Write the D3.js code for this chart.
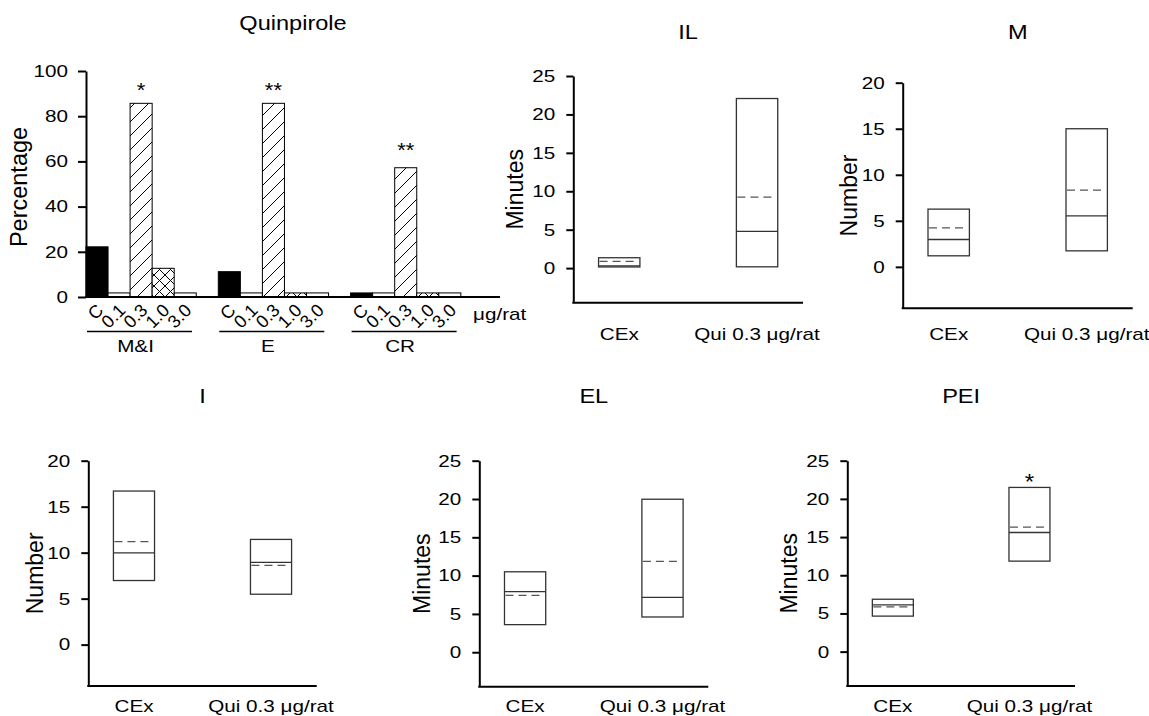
<!DOCTYPE html>
<html><head><meta charset="utf-8">
<script src="https://cdn.jsdelivr.net/npm/d3@7"></script>
<style>body{margin:0;background:#fff;} svg{display:block}</style>
</head><body>
<script>
// ---------------- data ----------------
const barGroups = ["M&I", "E", "CR"];
const doses = ["C", "0.1", "0.3", "1.0", "3.0"];
const pctMI = [22.2, 1.8, 85.7, 12.7, 1.8];
const pctE  = [11.2, 1.8, 85.7, 1.8, 1.8];
const pctCR = [1.8, 1.8, 57.2, 1.8, 1.8];
const pctTicks = [0, 20, 40, 60, 80, 100];
const barStars = ["*", "**", "**"];      // above the 0.3 bar of each group
const starLevels = [93, 93, 66.5];       // in percentage units
const doseUnit = "\u03bcg/rat";

const boxGroups = ["CEx", "Qui 0.3 \u03bcg/rat"];
const minuteTicks = [0, 5, 10, 15, 20, 25];
const numberTicks = [0, 5, 10, 15, 20];
// IL (minutes)
const ilLow = [0.15, 0.17], ilHigh = [1.35, 22.07], ilMedian = [0.3, 4.78], ilMean = [0.87, 9.25];
// M (number)
const mLow = [1.2, 1.74], mHigh = [6.27, 15.0], mMedian = [2.97, 5.54], mMean = [4.24, 8.34];
// I (number)
const iLow = [6.97, 5.48], iHigh = [16.7, 11.44], iMedian = [9.97, 8.95], iMean = [11.2, 8.62];
// EL (minutes)
const elLow = [3.6, 4.6], elHigh = [10.5, 19.97], elMedian = [7.9, 7.16], elMean = [7.43, 11.85];
// PEI (minutes)
const peiLow = [4.65, 11.85], peiHigh = [6.86, 21.5], peiMedian = [6.12, 15.6], peiMean = [5.86, 16.3];
const peiStars = ["", "*"];

// ---------------- drawing ----------------
const W = 1149, H = 716;
const FONT = "'Liberation Sans', Arial, Helvetica, sans-serif";
const SX = 1.23; // horizontal stretch of the reference lettering

const svg = d3.select("body").append("svg")
  .attr("width", W).attr("height", H)
  .style("font-family", FONT);

svg.append("rect").attr("width", W).attr("height", H).attr("fill", "#fff");

function htext(x, y, str, size, anchor, sx) {
  return svg.append("text")
    .attr("transform", `translate(${x},${y}) scale(${sx || SX},1)`)
    .attr("text-anchor", anchor || "middle")
    .attr("font-size", size)
    .attr("fill", "#000")
    .text(str);
}
function vtext(x, y, str, size) {
  return svg.append("text")
    .attr("transform", `translate(${x},${y}) rotate(-90)`)
    .attr("text-anchor", "middle")
    .attr("font-size", size)
    .attr("fill", "#000")
    .text(str);
}
function styleAxis(g, pad) {
  g.select(".domain").attr("stroke", "#000").attr("stroke-width", 2);
  g.selectAll(".tick line").attr("stroke", "#000").attr("stroke-width", 2);
  g.selectAll(".tick text")
    .attr("font-size", 16.8).attr("font-family", FONT).attr("fill", "#000")
    .attr("transform", `scale(${SX},1)`)
    .attr("x", -pad / SX);
}

// patterns
const defs = svg.append("defs");
const hatch = defs.append("pattern").attr("id", "hatch")
  .attr("patternUnits", "userSpaceOnUse").attr("width", 14).attr("height", 14);
hatch.append("rect").attr("width", 14).attr("height", 14).attr("fill", "#fff");
hatch.append("path").attr("d", "M0,14 L14,0 M-3.5,3.5 L3.5,-3.5 M10.5,17.5 L17.5,10.5")
  .attr("stroke", "#000").attr("stroke-width", 1);
const cross = defs.append("pattern").attr("id", "cross")
  .attr("patternUnits", "userSpaceOnUse").attr("width", 11).attr("height", 11);
cross.append("rect").attr("width", 11).attr("height", 11).attr("fill", "#fff");
cross.append("path").attr("d", "M0,11 L11,0 M-3,3 L3,-3 M8,14 L14,8 M0,0 L11,11 M-3,8 L3,14 M8,-3 L14,3")
  .attr("stroke", "#000").attr("stroke-width", 1);

const doseFill = { "C": "#000", "0.1": "#fff", "0.3": "url(#hatch)", "1.0": "url(#cross)", "3.0": "#fff" };

// ---- bar chart (Quinpirole) ----
{
  const left = 86, right = 500, top = 71, bottom = 297;
  const y = d3.scaleLinear().domain([0, 100]).range([bottom, top]);
  const gx = d3.scaleBand().domain(barGroups).range([left, left + 3 * 132.3]);
  const dx = d3.scaleBand().domain(doses).range([0, gx.bandwidth() * 5 / 6]);
  const series = [pctMI, pctE, pctCR];
  const rows = [];
  barGroups.forEach((g, gi) => doses.forEach((d, di) => rows.push({ g, d, v: series[gi][di] })));

  svg.append("g").selectAll("rect").data(rows).join("rect")
    .attr("x", r => gx(r.g) + dx(r.d))
    .attr("width", dx.bandwidth())
    .attr("y", r => y(r.v))
    .attr("height", r => bottom - y(r.v))
    .attr("fill", r => doseFill[r.d])
    .attr("stroke", "#000").attr("stroke-width", 1);

  const ax = svg.append("g").attr("transform", `translate(${left},0)`)
    .call(d3.axisLeft(y).tickValues(pctTicks).tickSize(8).tickSizeOuter(0));
  styleAxis(ax, 18);
  svg.append("line").attr("x1", left - 1).attr("x2", right).attr("y1", bottom).attr("y2", bottom)
    .attr("stroke", "#000").attr("stroke-width", 2);

  // stars
  barGroups.forEach((g, gi) => {
    htext(gx(g) + dx("0.3") + dx.bandwidth() / 2, y(starLevels[gi]) + 10, barStars[gi], 20, "middle", 1.1);
  });

  // rotated dose labels
  rows.forEach(r => {
    const cx = gx(r.g) + dx(r.d) + dx.bandwidth() / 2 + 3;
    svg.append("text")
      .attr("transform", `translate(${cx},307) rotate(-45)`)
      .attr("text-anchor", "end").attr("dy", "0.35em")
      .attr("font-size", 18).attr("fill", "#000").text(r.d);
  });
  htext(473, 320, doseUnit, 16.8, "start");

  // group underlines + labels
  barGroups.forEach(g => {
    const x0 = gx(g) + 1, x1 = gx(g) + 106;
    svg.append("line").attr("x1", x0).attr("x2", x1).attr("y1", 331.5).attr("y2", 331.5)
      .attr("stroke", "#000").attr("stroke-width", 1.3);
    htext((x0 + x1) / 2 - 4, 351.5, g, 16.8, "middle");
  });

  vtext(left - 59, (top + bottom) / 2 + 3, "Percentage", 23.5);
  htext((left + right) / 2, 30, "Quinpirole", 20.5, "middle", 1.15);
}

// ---- box panels ----
const panels = [
  { title: "IL", ylab: "Minutes", ticks: minuteTicks, low: ilLow, high: ilHigh, median: ilMedian, mean: ilMean,
    left: 573.3, right: 803, yTop: 76, yBot: 302.7, titleY: 38.5, labelY: 340, ylabOff: -50 },
  { title: "M", ylab: "Number", ticks: numberTicks, low: mLow, high: mHigh, median: mMedian, mean: mMean,
    left: 902.7, right: 1132.7, yTop: 82.7, yBot: 308.3, titleY: 38.5, labelY: 340, ylabOff: -46 },
  { title: "I", ylab: "Number", ticks: numberTicks, low: iLow, high: iHigh, median: iMedian, mean: iMean,
    left: 88.3, right: 316.7, yTop: 460.7, yBot: 686, titleY: 403.3, labelY: 711.5, ylabOff: -45 },
  { title: "EL", ylab: "Minutes", ticks: minuteTicks, low: elLow, high: elHigh, median: elMedian, mean: elMean,
    left: 479.3, right: 708.3, yTop: 460.7, yBot: 686.7, titleY: 403.3, labelY: 711.5, ylabOff: -49 },
  { title: "PEI", ylab: "Minutes", ticks: minuteTicks, low: peiLow, high: peiHigh, median: peiMedian, mean: peiMean,
    left: 847.3, right: 1075, yTop: 460.7, yBot: 686, titleY: 403.3, labelY: 711.5, ylabOff: -50, stars: peiStars }
];

panels.forEach(p => {
  const maxT = p.ticks[p.ticks.length - 1];
  const y = d3.scaleLinear().domain([-4.5, maxT]).range([p.yBot, p.yTop]);
  const x = d3.scalePoint().domain(boxGroups).range([p.left, p.right]).padding(1 / 3);
  const bw = (p.right - p.left) * 0.18;

  const ax = svg.append("g").attr("transform", `translate(${p.left},0)`)
    .call(d3.axisLeft(y).tickValues(p.ticks).tickSize(7).tickSizeOuter(0));
  styleAxis(ax, 18);
  svg.append("line").attr("x1", p.left - 1).attr("x2", p.right).attr("y1", p.yBot).attr("y2", p.yBot)
    .attr("stroke", "#000").attr("stroke-width", 2);

  const data = boxGroups.map((g, i) => ({ g, lo: p.low[i], hi: p.high[i], med: p.median[i], mean: p.mean[i] }));
  const gb = svg.append("g");
  gb.selectAll("rect.box").data(data).join("rect").attr("class", "box")
    .attr("x", d => x(d.g) - bw / 2).attr("width", bw)
    .attr("y", d => y(d.hi)).attr("height", d => y(d.lo) - y(d.hi))
    .attr("fill", "none").attr("stroke", "#333").attr("stroke-width", 1.3);
  gb.selectAll("line.med").data(data).join("line").attr("class", "med")
    .attr("x1", d => x(d.g) - bw / 2).attr("x2", d => x(d.g) + bw / 2)
    .attr("y1", d => y(d.med)).attr("y2", d => y(d.med))
    .attr("stroke", "#333").attr("stroke-width", 1.3);
  gb.selectAll("line.mean").data(data).join("line").attr("class", "mean")
    .attr("x1", d => x(d.g) - bw / 2 + 1).attr("x2", d => x(d.g) + bw / 2 - 3)
    .attr("y1", d => y(d.mean)).attr("y2", d => y(d.mean))
    .attr("stroke", "#555").attr("stroke-width", 1.3).attr("stroke-dasharray", "8,5");

  if (p.stars) {
    data.forEach((d, i) => {
      if (p.stars[i]) htext(x(d.g), y(d.hi) - 9 + 11, p.stars[i], 22, "middle", 1.1);
    });
  }

  boxGroups.forEach(g => htext(x(g), p.labelY, g, 16.8, "middle"));
  htext((p.left + p.right) / 2, p.titleY, p.title, 20.5, "middle", 1.15);
  vtext(p.left + p.ylabOff, (p.yTop + p.yBot) / 2, p.ylab, 23);
});
</script>
</body></html>
